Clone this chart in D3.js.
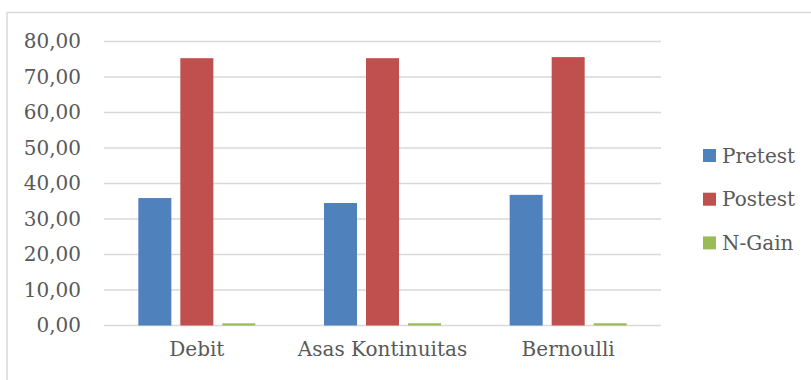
<!DOCTYPE html>
<html lang="id">
<head>
  <meta charset="utf-8">
  <title>Pretest Postest N-Gain</title>
  <script src="https://cdn.jsdelivr.net/npm/d3@7/dist/d3.min.js"></script>
  <style>
    body { margin: 0; background: #fff; }
  </style>
</head>
<body>
<script>
// data
var categories = ["Debit", "Asas Kontinuitas", "Bernoulli"];
var seriesNames = ["Pretest", "Postest", "N-Gain"];
var pretest = [35.9, 34.5, 36.8];
var postest = [75.3, 75.3, 75.6];
var ngain = [0.61, 0.62, 0.63];
var yTicks = [0, 10, 20, 30, 40, 50, 60, 70, 80];

var colors = ["#4F81BD", "#C0504D", "#9BBB59"];
var seriesValues = [pretest, postest, ngain];

var width = 811, height = 380;
var font = "'DejaVu Serif', serif";
var textColor = "#595959";

var svg = d3.select("body").append("svg")
  .attr("width", width)
  .attr("height", height);

// chart border
svg.append("rect")
  .attr("x", 7).attr("y", 12.5)
  .attr("width", 900).attr("height", 500)
  .attr("fill", "none")
  .attr("stroke", "#D9D9D9")
  .attr("stroke-width", 1.5);

var x0 = d3.scaleBand()
  .domain(categories)
  .range([104, 661]);

var x1 = d3.scaleBand()
  .domain(seriesNames)
  .range([0, 117])
  .paddingInner(9 / 42);

var y = d3.scaleLinear()
  .domain([0, 80])
  .range([325.5, 41.5]);

var fmt = function(d) { return d3.format(".2f")(d).replace(".", ","); };

// gridlines
svg.append("g").selectAll("line")
  .data(yTicks)
  .enter().append("line")
  .attr("x1", 104).attr("x2", 661)
  .attr("y1", function(d) { return y(d); })
  .attr("y2", function(d) { return y(d); })
  .attr("stroke", "#D9D9D9")
  .attr("stroke-width", 1.6);

// y axis labels
var yAxis = d3.axisLeft(y).tickValues(yTicks).tickFormat(fmt).tickSize(0).tickPadding(0);
var gy = svg.append("g").attr("transform", "translate(81,0)").call(yAxis);
gy.select(".domain").remove();
gy.selectAll("text")
  .attr("font-family", font)
  .attr("font-size", "20px")
  .attr("fill", textColor);

// x axis labels
var xAxis = d3.axisBottom(x0).tickSize(0).tickPadding(0);
var gx = svg.append("g").attr("transform", "translate(0,342)").call(xAxis);
gx.select(".domain").remove();
gx.selectAll("text")
  .attr("font-family", font)
  .attr("font-size", "20px")
  .attr("fill", textColor);

// bars
var groups = svg.append("g").selectAll("g")
  .data(categories)
  .enter().append("g")
  .attr("transform", function(d) {
    return "translate(" + (x0(d) + x0.bandwidth() / 2 - 58.5) + ",0)";
  });

groups.selectAll("rect")
  .data(function(d, i) {
    return seriesNames.map(function(s, j) {
      return { series: s, value: seriesValues[j][i], color: colors[j] };
    });
  })
  .enter().append("rect")
  .attr("x", function(d) { return x1(d.series); })
  .attr("y", function(d) { return y(d.value); })
  .attr("width", x1.bandwidth())
  .attr("height", function(d) { return y(0) - y(d.value); })
  .attr("fill", function(d) { return d.color; });

// legend
var legend = svg.append("g").selectAll("g")
  .data(seriesNames)
  .enter().append("g")
  .attr("transform", function(d, i) { return "translate(703," + (155.5 + i * 43.7) + ")"; });

legend.append("rect")
  .attr("x", 0).attr("y", -6.5)
  .attr("width", 13).attr("height", 13)
  .attr("fill", function(d, i) { return colors[i]; });

legend.append("text")
  .attr("x", 19)
  .attr("y", 0)
  .attr("dy", "0.35em")
  .attr("font-family", font)
  .attr("font-size", "20px")
  .attr("fill", textColor)
  .text(function(d) { return d; });
</script>
</body>
</html>
